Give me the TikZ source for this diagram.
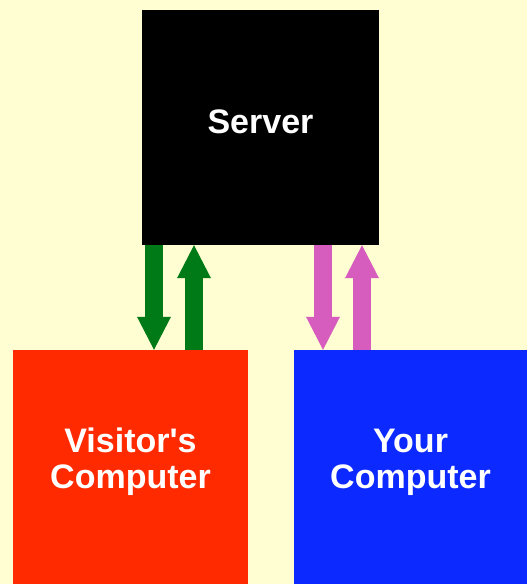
\documentclass[tikz,border=0pt]{standalone}
\usepackage{fontspec}
\newfontfamily\boxfont{Liberation Sans}
\usetikzlibrary{arrows.meta}

\definecolor{bgcream}{RGB}{255,253,210}
\definecolor{visred}{RGB}{255,42,0}
\definecolor{yourblue}{RGB}{12,42,255}
\definecolor{linkgreen}{RGB}{0,122,22}
\definecolor{linkpink}{RGB}{214,92,190}

\begin{document}
\begin{tikzpicture}[x=1pt, y=-1pt,
    box/.style={
        rectangle,
        inner sep=0pt,
        minimum width=236pt,
        minimum height=235pt
    },
    caption/.style={
        text=white,
        font=\boxfont\bfseries\fontsize{34}{36}\selectfont,
        align=center
    },
    link/.style={
        line width=18pt,
        -{Triangle[width=34pt, length=33pt, line width=0pt]}
    }
]

%------------------------------------------------
% Fondo
%------------------------------------------------
\fill[bgcream] (0,0) rectangle (527,584);

%------------------------------------------------
% Cajas
%------------------------------------------------
\node[box, fill=black, minimum width=237pt,
      label={[caption, yshift=6pt]center:Server}] (server) at (260.5,127.5) {};
\node[box, fill=visred, minimum width=235pt, minimum height=234pt,
      label={[caption, yshift=5pt]center:Visitor's\\Computer}] (visitor) at (130.5,467) {};
\node[box, fill=yourblue, minimum width=233pt, minimum height=234pt,
      label={[caption, yshift=5pt]center:Your\\Computer}] (yours) at (410.5,467) {};

%------------------------------------------------
% Flechas (bajada y subida)
%------------------------------------------------
\foreach \xa/\col/\client in {154/linkgreen/visitor, 323/linkpink/yours} {
    \draw[link, \col] (server.south -| \xa,0) -- (\client.north -| \xa,0);
}
\foreach \xa/\col/\client in {194/linkgreen/visitor, 362/linkpink/yours} {
    \draw[link, \col] (\client.north -| \xa,0) -- (server.south -| \xa,0);
}

\end{tikzpicture}
\end{document}
